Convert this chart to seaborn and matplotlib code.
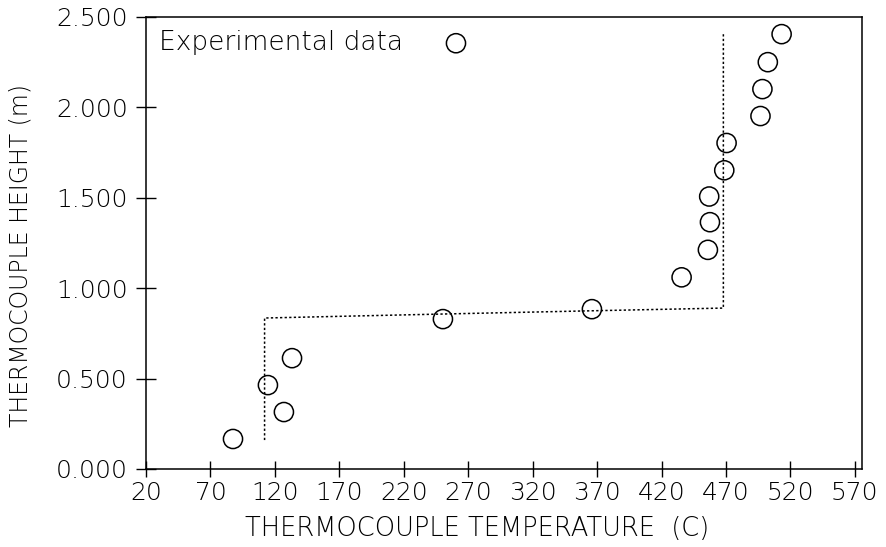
import numpy as np
import pandas as pd
import seaborn as sns
import matplotlib
matplotlib.use("Agg")
import matplotlib.pyplot as plt

# experimental thermocouple readings
temp_c = [87.5, 114.6, 127.0, 133.3, 250.4, 366.0, 435.6, 456.0, 457.6, 457.0,
          468.7, 470.5, 496.8, 498.3, 502.5, 513.2]
height_m = [0.166, 0.464, 0.315, 0.613, 0.829, 0.884, 1.060, 1.212, 1.365, 1.507,
            1.652, 1.803, 1.952, 2.101, 2.250, 2.405]

# model profile (dotted)
model_temp = [112.0, 112.0, 250.0, 366.0, 468.0, 468.0]
model_height = [0.16, 0.835, 0.857, 0.875, 0.89, 2.41]

x_ticks = list(range(20, 571, 50))
y_ticks = [0.0, 0.5, 1.0, 1.5, 2.0, 2.5]

sns.set_style("ticks")
plt.rcParams["font.family"] = ["DejaVu Sans"]
plt.rcParams["font.weight"] = "light"
plt.rcParams["text.color"] = "black"
plt.rcParams["axes.labelcolor"] = "black"
plt.rcParams["axes.labelweight"] = "light"
plt.rcParams["xtick.direction"] = "inout"
plt.rcParams["ytick.direction"] = "inout"

fig = plt.figure(figsize=(8.86, 5.47), dpi=100)
ax = fig.add_axes([0.1648, 0.1426, 0.808, 0.8264])

exp = pd.DataFrame({"temp": temp_c, "height": height_m})
model = pd.DataFrame({"temp": model_temp, "height": model_height})

sns.lineplot(data=model, x="temp", y="height", sort=False, estimator=None,
             errorbar=None, ax=ax, color="black",
             linestyle=(0, (1.5, 1.5)), linewidth=1.1, legend=False)
sns.scatterplot(data=exp, x="temp", y="height", ax=ax, marker="o", s=190,
                facecolor="none", edgecolor="black", linewidth=1.1,
                label="Experimental data", zorder=3)

ax.set_xlim(20, 575.5)
ax.set_ylim(0, 2.5)
ax.set_xticks(x_ticks)
ax.set_yticks(y_ticks)
ax.set_yticklabels([f"{v:.3f}" for v in y_ticks])
ax.tick_params(axis="y", direction="inout", length=14, width=1, labelsize=18,
               pad=6, colors="black")
ax.tick_params(axis="x", direction="inout", length=11, width=1, labelsize=18,
               pad=3, colors="black")
for s in ax.spines.values():
    s.set_visible(True)
    s.set_color("black")
    s.set_linewidth(1.1)

ax.set_xlabel("THERMOCOUPLE TEMPERATURE  (C)", fontsize=18.5)
ax.set_ylabel("THERMOCOUPLE HEIGHT (m)", fontsize=17)
ax.xaxis.set_label_coords(0.462, -0.104)
ax.yaxis.set_label_coords(-0.158, 0.473)

ax.legend(loc="upper left", frameon=False, markerfirst=False, fontsize=19,
          handletextpad=1.0, borderaxespad=0.15, borderpad=0.35)

fig.savefig("out.png", dpi=100)
